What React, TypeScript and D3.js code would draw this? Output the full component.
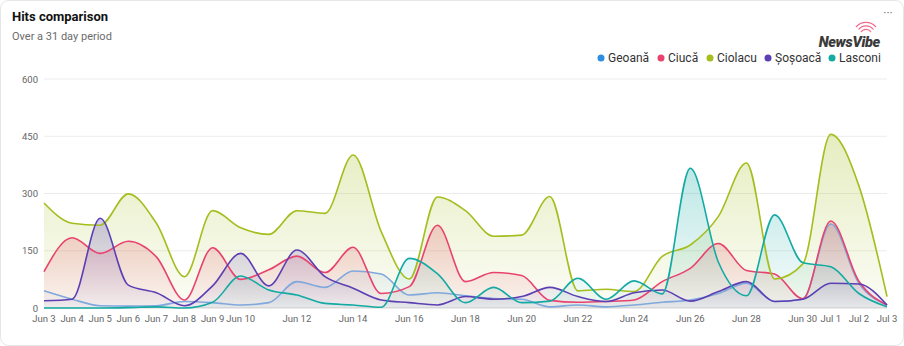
import React from "react";
import * as d3 from "d3";

const W = 904;
const H = 346;

const days = [
  "Jun 3","Jun 4","Jun 5","Jun 6","Jun 7","Jun 8","Jun 9","Jun 10","Jun 11","Jun 12",
  "Jun 13","Jun 14","Jun 15","Jun 16","Jun 17","Jun 18","Jun 19","Jun 20","Jun 21","Jun 22",
  "Jun 23","Jun 24","Jun 25","Jun 26","Jun 27","Jun 28","Jun 29","Jun 30","Jul 1","Jul 2","Jul 3",
];
const shownTicks = [
  "Jun 3","Jun 4","Jun 5","Jun 6","Jun 7","Jun 8","Jun 9","Jun 10","Jun 12","Jun 14","Jun 16",
  "Jun 18","Jun 20","Jun 22","Jun 24","Jun 26","Jun 28","Jun 30","Jul 1","Jul 2","Jul 3",
];
const yTicks = [0, 150, 300, 450, 600];

const seriesNames = ["Geoană", "Ciucă", "Ciolacu", "Șoșoacă", "Lasconi"];
const seriesColors = ["#7fa8dc", "#e8436e", "#a5bd1e", "#5b3fb3", "#13aaa3"];
const legendColors = ["#2e8ee0", "#e8436e", "#a5bd1e", "#5b3fb3", "#13aaa3"];

const geoana = [45, 23, 6, 5, 6, 17, 14, 8, 14, 69, 54, 97, 89, 34, 40, 32, 25, 23, 3, 8, 3, 8, 15, 21, 38, 65, 17, 23, 220, 65, 8];
const ciuca = [95, 184, 143, 175, 134, 21, 158, 75, 100, 136, 93, 159, 38, 56, 217, 69, 93, 85, 20, 15, 17, 21, 69, 104, 169, 98, 89, 24, 228, 70, 8];
const ciolacu = [275, 222, 217, 299, 222, 82, 255, 210, 193, 255, 248, 401, 200, 76, 291, 255, 188, 191, 292, 45, 49, 43, 135, 165, 240, 380, 76, 115, 455, 320, 30];
const sosoaca = [19, 23, 235, 60, 40, 6, 58, 143, 58, 152, 82, 52, 21, 14, 8, 30, 23, 30, 54, 30, 17, 40, 47, 18, 43, 69, 17, 23, 65, 63, 8];
const lasconi = [0, 0, 0, 1, 3, 0, 15, 84, 47, 34, 12, 8, 2, 130, 90, 14, 54, 14, 18, 78, 23, 71, 37, 366, 120, 32, 244, 119, 108, 38, 3];

const allSeries = [geoana, ciuca, ciolacu, sosoaca, lasconi];

export default function App() {
  const left = 44;
  const right = 887;
  const top = 79;
  const bottom = 308;

  const x = d3.scalePoint<string>().domain(days).range([left, right]);
  const y = d3.scaleLinear().domain([0, 600]).range([bottom, top]);

  const line = d3
    .line<number>()
    .x((_, i) => x(days[i]) as number)
    .y((d) => y(d))
    .curve(d3.curveMonotoneX);
  const area = d3
    .area<number>()
    .x((_, i) => x(days[i]) as number)
    .y0(y(0))
    .y1((d) => y(d))
    .curve(d3.curveMonotoneX);

  const legendX = [601, 661, 710, 768, 832];
  const font = "Roboto, 'Noto Sans', Arial, sans-serif";

  return (
    <svg
      width={W}
      height={H}
      style={{ position: "absolute", left: 0, top: 0, fontFamily: font }}
    >
      <defs>
        {seriesColors.map((c, i) => (
          <linearGradient key={i} id={`g${i}`} x1="0" y1="0" x2="0" y2="1">
            <stop offset="0" stopColor={c} stopOpacity={0.28} />
            <stop offset="1" stopColor={c} stopOpacity={0.04} />
          </linearGradient>
        ))}
      </defs>
      <rect x={0.5} y={0.5} width={W - 1} height={H - 1} rx={8} fill="#fff" stroke="#e6e6e6" />

      <text x={12} y={21} fontSize={13} fontWeight={700} fill="#111">
        Hits comparison
      </text>
      <text x={12} y={40} fontSize={11} fill="#6b6b6b">
        Over a 31 day period
      </text>
      <text x={888} y={17} fontSize={12} fill="#777" textAnchor="middle">
        ···
      </text>

      {/* logo */}
      <g>
        <path d="M861,32 a6,6 0 0 1 10,0" fill="none" stroke="#f06a8a" strokeWidth={1.2} />
        <path d="M858.5,29.5 a9.5,9.5 0 0 1 15,0" fill="none" stroke="#f06a8a" strokeWidth={1.2} />
        <path d="M856,27 a13,13 0 0 1 20,0" fill="none" stroke="#f06a8a" strokeWidth={1.2} />
        <text x={880} y={47} fontSize={14.5} fontWeight={900} fontStyle="italic" fill="#3a3a3a" textAnchor="end" letterSpacing={-0.3}>
          NewsVibe
        </text>
      </g>

      {/* legend */}
      {seriesNames.map((n, i) => (
        <g key={n}>
          <circle cx={legendX[i]} cy={58} r={3.5} fill={legendColors[i]} />
          <text x={legendX[i] + 7} y={62} fontSize={12} fill="#333">
            {n}
          </text>
        </g>
      ))}

      {/* grid */}
      {yTicks.map((t) => (
        <g key={t}>
          <line x1={left} x2={right} y1={y(t)} y2={y(t)} stroke={t === 0 ? "#d6d6d6" : "#ececec"} strokeWidth={1} />
          <text x={38} y={y(t) + 3.5} fontSize={9.5} fill="#666" textAnchor="end">
            {t}
          </text>
        </g>
      ))}

      {/* series */}
      {allSeries.map((s, i) => (
        <path key={`a${i}`} d={area(s) || ""} fill={`url(#g${i})`} />
      ))}
      {allSeries.map((s, i) => (
        <path key={`l${i}`} d={line(s) || ""} fill="none" stroke={seriesColors[i]} strokeWidth={1.6} />
      ))}

      {/* x labels */}
      {shownTicks.map((t) => (
        <text key={t} x={x(t) as number} y={322} fontSize={9.5} fill="#666" textAnchor="middle">
          {t}
        </text>
      ))}
    </svg>
  );
}
